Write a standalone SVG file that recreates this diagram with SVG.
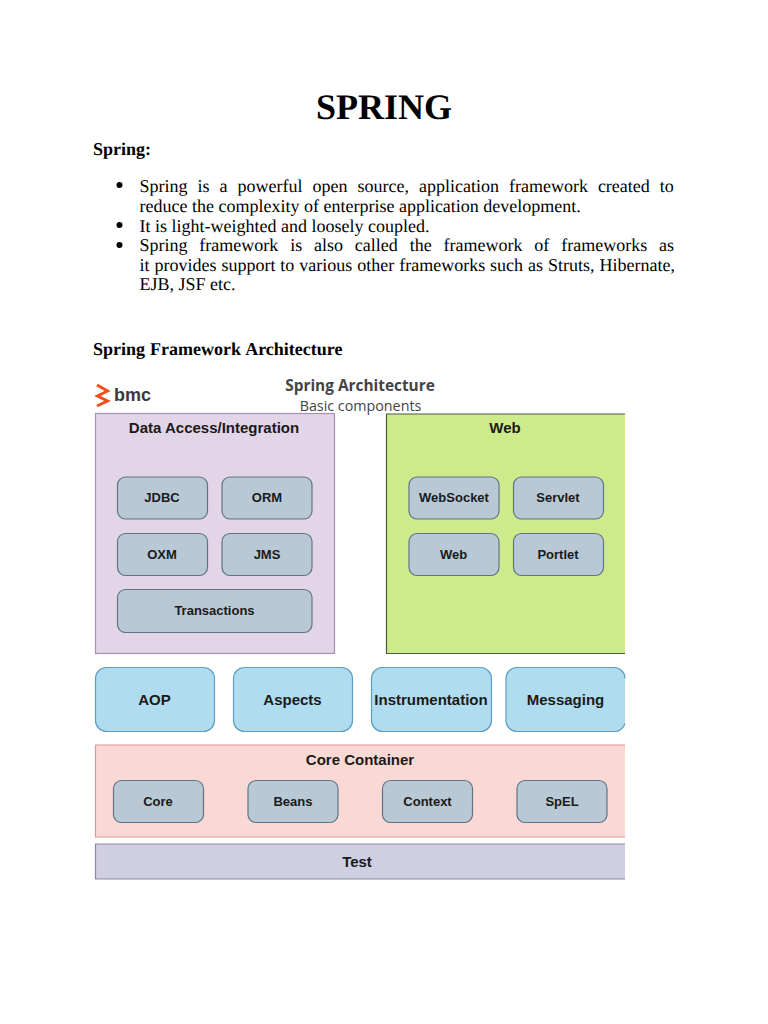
<svg xmlns="http://www.w3.org/2000/svg" width="768" height="1024" viewBox="0 0 768 1024">
<style>
.s{font-family:"Liberation Serif","Times New Roman",serif;fill:#000;text-rendering:geometricPrecision}
.b{font-size:18px}
.h{font-size:18px;font-weight:700}
.a{font-family:"Liberation Sans",Arial,sans-serif;font-weight:700;fill:#1a1a1a;text-anchor:middle}
.t13{font-size:13px}.t14{font-size:15px}.t15{font-size:15px}
.c{fill:#b8c8d4;stroke:#5f7488;stroke-width:1.2}
.u{fill:#b0dcf0;stroke:#5aa0c0;stroke-width:1.2}
</style>
<rect width="768" height="1024" fill="#fff"/>
<g id="document-text">
<text class="s" x="384" y="119" font-size="36" font-weight="700" text-anchor="middle">SPRING</text>
<text class="s h" x="93" y="155">Spring:</text>
<circle cx="119.500" cy="185" r="3"/><circle cx="119.500" cy="225" r="3"/><circle cx="119.500" cy="245" r="3"/>
<text class="s b" x="139.500" y="192" word-spacing="5.500">Spring is a powerful open source, application framework created to</text>
<text class="s b" x="139.500" y="212">reduce the complexity of enterprise application development.</text>
<text class="s b" x="139.500" y="232">It is light-weighted and loosely coupled.</text>
<text class="s b" x="139.500" y="251" word-spacing="7.350">Spring framework is also called the framework of frameworks as</text>
<text class="s b" x="139.500" y="271" word-spacing="0.450">it provides support to various other frameworks such as Struts, Hibernate,</text>
<text class="s b" x="139.500" y="290">EJB, JSF etc.</text>
<text class="s h" x="93" y="355" word-spacing="0.600">Spring Framework Architecture</text>
</g>
<g id="bmc-logo">
<path d="M97 385 L107.500 391 L97.500 396 L107.500 401 L97 406" fill="none" stroke="#f0501e" stroke-width="3"/>
<text x="114" y="401" font-family="Liberation Sans,Arial,sans-serif" font-weight="700" font-size="18" fill="#3a3a3a">bmc</text>
</g>
<g id="title">
<text x="360" y="391" font-family="Open Sans,sans-serif" font-weight="700" font-size="15.400" fill="#444" text-anchor="middle">Spring Architecture</text>
<text x="360.500" y="411" font-family="Open Sans,sans-serif" font-size="14.300" fill="#444" text-anchor="middle">Basic components</text>
</g>
<g id="data-access">
<rect x="95.500" y="413.500" width="239" height="240" fill="#e1d5e7" stroke="#a98fb5" stroke-width="1.200"/>
<text class="a t14" x="214" y="433">Data Access/Integration</text>
</g>
<g id="jdbc"><rect class="c" x="117.500" y="477" width="90" height="42" rx="8"/><text class="a t13" x="162" y="502">JDBC</text></g>
<g id="orm"><rect class="c" x="222" y="477" width="90" height="42" rx="8"/><text class="a t13" x="267" y="502">ORM</text></g>
<g id="oxm"><rect class="c" x="117.500" y="533.500" width="90" height="42" rx="8"/><text class="a t13" x="162" y="558.500">OXM</text></g>
<g id="jms"><rect class="c" x="222" y="533.500" width="90" height="42" rx="8"/><text class="a t13" x="267" y="558.500">JMS</text></g>
<g id="transactions"><rect class="c" x="117.500" y="589.500" width="194.500" height="43" rx="8"/><text class="a t13" x="214.500" y="615">Transactions</text></g>
<g id="web-group">
<path d="M625 414 H386.500 V653.500 H625" fill="#cdeb8b" stroke="#4d5a3c" stroke-width="1.200"/>
<text class="a t14" x="505" y="433">Web</text>
</g>
<g id="websocket"><rect class="c" x="409" y="477" width="90" height="42" rx="8"/><text class="a t13" x="454" y="502">WebSocket</text></g>
<g id="servlet"><rect class="c" x="513.500" y="477" width="90" height="42" rx="8"/><text class="a t13" x="558" y="502">Servlet</text></g>
<g id="web"><rect class="c" x="409" y="533.500" width="90" height="42" rx="8"/><text class="a t13" x="453.500" y="558.500">Web</text></g>
<g id="portlet"><rect class="c" x="513.500" y="533.500" width="90" height="42" rx="8"/><text class="a t13" x="558" y="558.500">Portlet</text></g>
<g id="aop"><rect class="u" x="95.500" y="667.500" width="119" height="64" rx="11"/><text class="a t15" x="154.500" y="705">AOP</text></g>
<g id="aspects"><rect class="u" x="233.500" y="667.500" width="119" height="64" rx="11"/><text class="a t15" x="292.500" y="705">Aspects</text></g>
<g id="instrumentation"><rect class="u" x="371.500" y="667.500" width="120" height="64" rx="11"/><text class="a t15" x="431" y="705">Instrumentation</text></g>
<g id="messaging"><path d="M625 678.500 a11 11 0 0 0 -11 -11 H517 a11 11 0 0 0 -11 11 V720.500 a11 11 0 0 0 11 11 H614 a11 11 0 0 0 11 -8" class="u"/><text class="a t15" x="565.500" y="705">Messaging</text></g>
<g id="core-container">
<path d="M625 745 H95.500 V837 H625" fill="#fad9d5" stroke="#d99a96" stroke-width="1.200"/>
<text class="a t14" x="360" y="765">Core Container</text>
</g>
<g id="core"><rect class="c" x="113.500" y="780.500" width="90" height="42" rx="8"/><text class="a t13" x="158" y="806">Core</text></g>
<g id="beans"><rect class="c" x="248" y="780.500" width="90" height="42" rx="8"/><text class="a t13" x="293" y="806">Beans</text></g>
<g id="context"><rect class="c" x="382.500" y="780.500" width="90" height="42" rx="8"/><text class="a t13" x="427.500" y="806">Context</text></g>
<g id="spel"><rect class="c" x="517" y="780.500" width="90" height="42" rx="8"/><text class="a t13" x="562" y="806">SpEL</text></g>
<g id="test">
<path d="M625 844 H95.500 V879 H625" fill="#d0cee2" stroke="#8a87aa" stroke-width="1.200"/>
<text class="a t14" x="357" y="867">Test</text>
</g>
</svg>
